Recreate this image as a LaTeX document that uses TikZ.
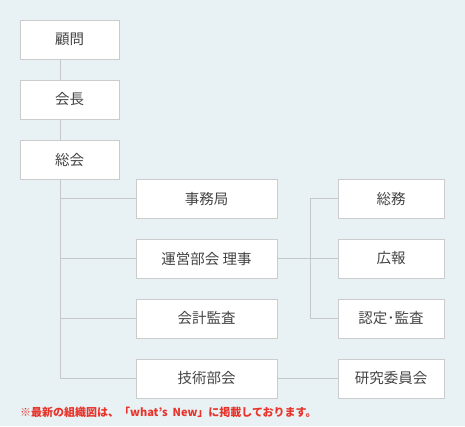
\documentclass[tikz,border=0pt]{standalone}
\usepackage{fontspec}
\setmainfont{Noto Sans CJK JP}
\usetikzlibrary{positioning}
\definecolor{bgblue}{HTML}{E8F1F4}
\definecolor{boxline}{HTML}{CCCCCC}
\definecolor{connline}{HTML}{C4C8CA}
\definecolor{textgray}{HTML}{444444}
\definecolor{notered}{HTML}{E8332A}

\begin{document}
\begin{tikzpicture}[x=1pt,y=-1pt,
  box/.style={draw=boxline,line width=1pt,fill=white,minimum width=99pt,minimum height=39pt,
    inner sep=0pt,text=textgray,font=\fontsize{14.5}{16}\selectfont},
  widebox/.style={box,minimum width=141pt},
  sidebox/.style={box,minimum width=106pt},
  conn/.style={draw=connline,line width=1pt}]
  \fill[bgblue] (0,0) rectangle (465,426);
  \coordinate (trunk) at (60.5,0);
  \coordinate (brk) at (310.5,0);
  % left column
  \node[box] (komon) at (69.5,39.5) {顧問};
  \node[box] (kaicho) at (69.5,99.5) {会長};
  \node[box] (sokai) at (69.5,159.5) {総会};
  % middle column
  \node[widebox] (jimu) at (206.5,198.5) {事務局};
  \node[widebox] (unei) at (206.5,258.5) {運営部会 理事};
  \node[widebox] (kansa) at (206.5,318.5) {会計監査};
  \node[widebox] (gijutsu) at (206.5,378.5) {技術部会};
  % right column
  \node[sidebox] (somu) at (391,198.5) {総務};
  \node[sidebox] (kohou) at (391,258.5) {広報};
  \node[sidebox] (nintei) at (391,318.5) {認定･監査};
  \node[sidebox] (kenkyu) at (391,378.5) {研究委員会};
  % connectors
  \draw[conn] (komon.south -| trunk) -- (kaicho.north -| trunk);
  \draw[conn] (kaicho.south -| trunk) -- (sokai.north -| trunk);
  \draw[conn] (sokai.south -| trunk) |- (gijutsu.west);
  \draw[conn] (trunk |- jimu) -- (jimu.west);
  \draw[conn] (trunk |- unei) -- (unei.west);
  \draw[conn] (trunk |- kansa) -- (kansa.west);
  \draw[conn] (unei.east) -- (kohou.west);
  \draw[conn] (somu.west) -- (brk |- somu) -- (brk |- nintei) -- (nintei.west);
  \draw[conn] (gijutsu.east) -- (kenkyu.west);
  \node[anchor=west,inner sep=0pt,text=notered,font=\fontsize{11}{13}\selectfont\bfseries] (note) at (20,412.5)
    {※最新の組織図は、「what’s\hspace{5pt}New」に掲載しております。};
\end{tikzpicture}
\end{document}
